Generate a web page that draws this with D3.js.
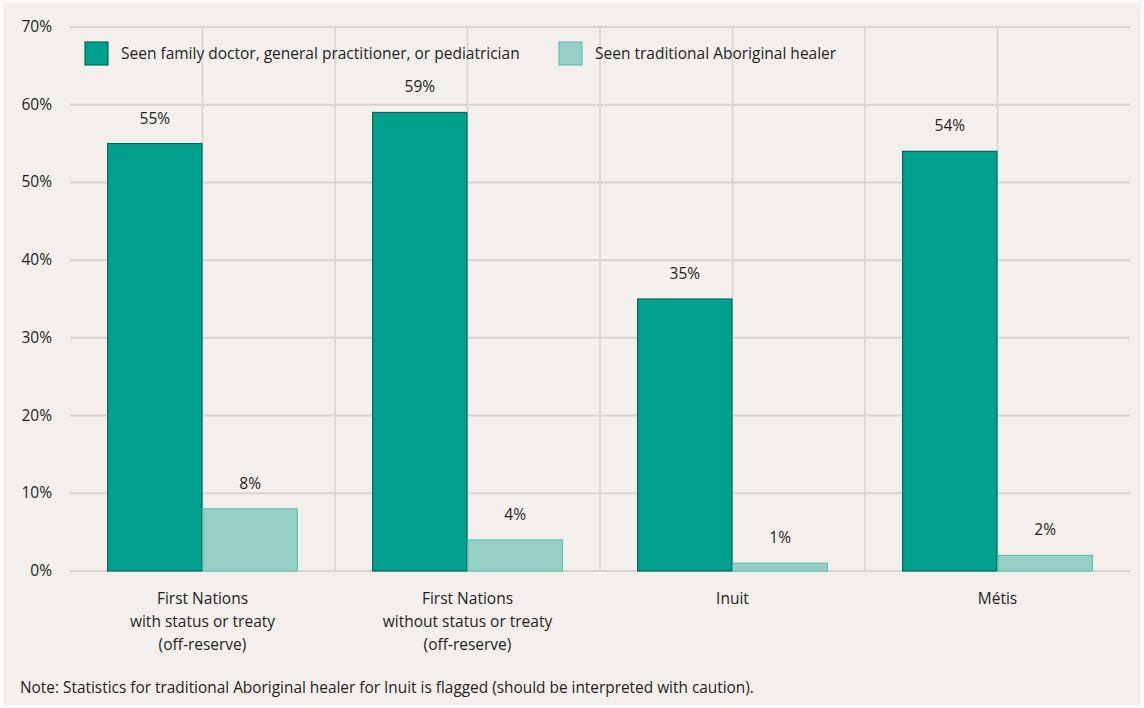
<!DOCTYPE html>
<html><head><meta charset="utf-8">
<script src="https://cdn.jsdelivr.net/npm/d3@7"></script>
<style>
html,body{margin:0;padding:0;background:#fbfaf9;}
svg{display:block;}
text{font-family:"Open Sans",sans-serif;fill:#231f20;}
</style></head>
<body><svg id="c" width="1144" height="708"></svg>
<script>
const categories = [
  ["First Nations","with status or treaty","(off-reserve)"],
  ["First Nations","without status or treaty","(off-reserve)"],
  ["Inuit"],
  ["Métis"]
];
const seriesNames = ["Seen family doctor, general practitioner, or pediatrician","Seen traditional Aboriginal healer"];
const doctorValues = [55, 59, 35, 54];
const healerValues = [8, 4, 1, 2];
const yTicks = [0,10,20,30,40,50,60,70];
const note = "Note: Statistics for traditional Aboriginal healer for Inuit is flagged (should be interpreted with caution).";

(function(){
const fills = ["#00a08f","#97cfc4"];
const strokes = ["#00695c","#5fc3b4"];

const svg = d3.select("#c");
svg.append("rect").attr("x",3).attr("y",3).attr("width",1138).attr("height",702).attr("fill","#f3efec");

const pl=70, pr=1130, pt=27, pb=571;
const x = d3.scaleBand().domain(d3.range(categories.length)).range([pl,pr]).paddingInner(0.28).paddingOuter(0.14);
const x0 = d3.scaleBand().domain([0,1]).range([0,x.bandwidth()]);
const y = d3.scaleLinear().domain([0,70]).range([pb,pt]);

svg.append("g").selectAll("line").data(yTicks).join("line")
  .attr("x1",pl).attr("x2",pr).attr("y1",d=>y(d)).attr("y2",d=>y(d))
  .attr("stroke","#d7d3ce").attr("stroke-width",2);
const vx = [];
categories.forEach((c,i)=>{ vx.push(x(i)+x.bandwidth()/2); if(i>0) vx.push(x(i)-x.step()*x.paddingInner()/2); });
svg.append("g").selectAll("line").data(vx).join("line")
  .attr("x1",d=>d).attr("x2",d=>d).attr("y1",y(70)).attr("y2",y(0))
  .attr("stroke","#d7d3ce").attr("stroke-width",1.5);

svg.append("g").selectAll("text").data(yTicks).join("text")
  .attr("x",52).attr("y",d=>y(d)+5).attr("text-anchor","end")
  .attr("font-size",15.5).text(d=>d+"%");

const series = [doctorValues, healerValues];
series.forEach((vals,s)=>{
  const g = svg.append("g");
  g.selectAll("rect").data(vals).join("rect")
    .attr("x",(d,i)=>x(i)+x0(s)+0.5).attr("width",x0.bandwidth()-1)
    .attr("y",d=>y(d)).attr("height",d=>y(0)-y(d))
    .attr("fill",fills[s]).attr("stroke",strokes[s]).attr("stroke-width",1.2);
  g.selectAll("text").data(vals).join("text")
    .attr("x",(d,i)=>x(i)+x0(s)+x0.bandwidth()/2).attr("y",d=>y(d)-20)
    .attr("text-anchor","middle").attr("font-size",15.5).text(d=>d+"%");
});

categories.forEach((lines,i)=>{
  const cx = x(i)+x.bandwidth()/2;
  const t = svg.append("text").attr("text-anchor","middle").attr("font-size",15.5)
    .attr("x",cx).attr("y",604);
  lines.forEach((l,k)=>t.append("tspan").attr("x",cx).attr("dy",k?23:0).text(l));
});

const legX = [85,559];
seriesNames.forEach((n,s)=>{
  svg.append("rect").attr("x",legX[s]).attr("y",42).attr("width",23).attr("height",23)
    .attr("fill",fills[s]).attr("stroke",strokes[s]).attr("stroke-width",1.2);
  svg.append("text").attr("x",legX[s]+36).attr("y",59).attr("font-size",15.5).text(n);
});

svg.append("text").attr("x",20).attr("y",693).attr("font-size",15.4).text(note);
})();
</script></body></html>
